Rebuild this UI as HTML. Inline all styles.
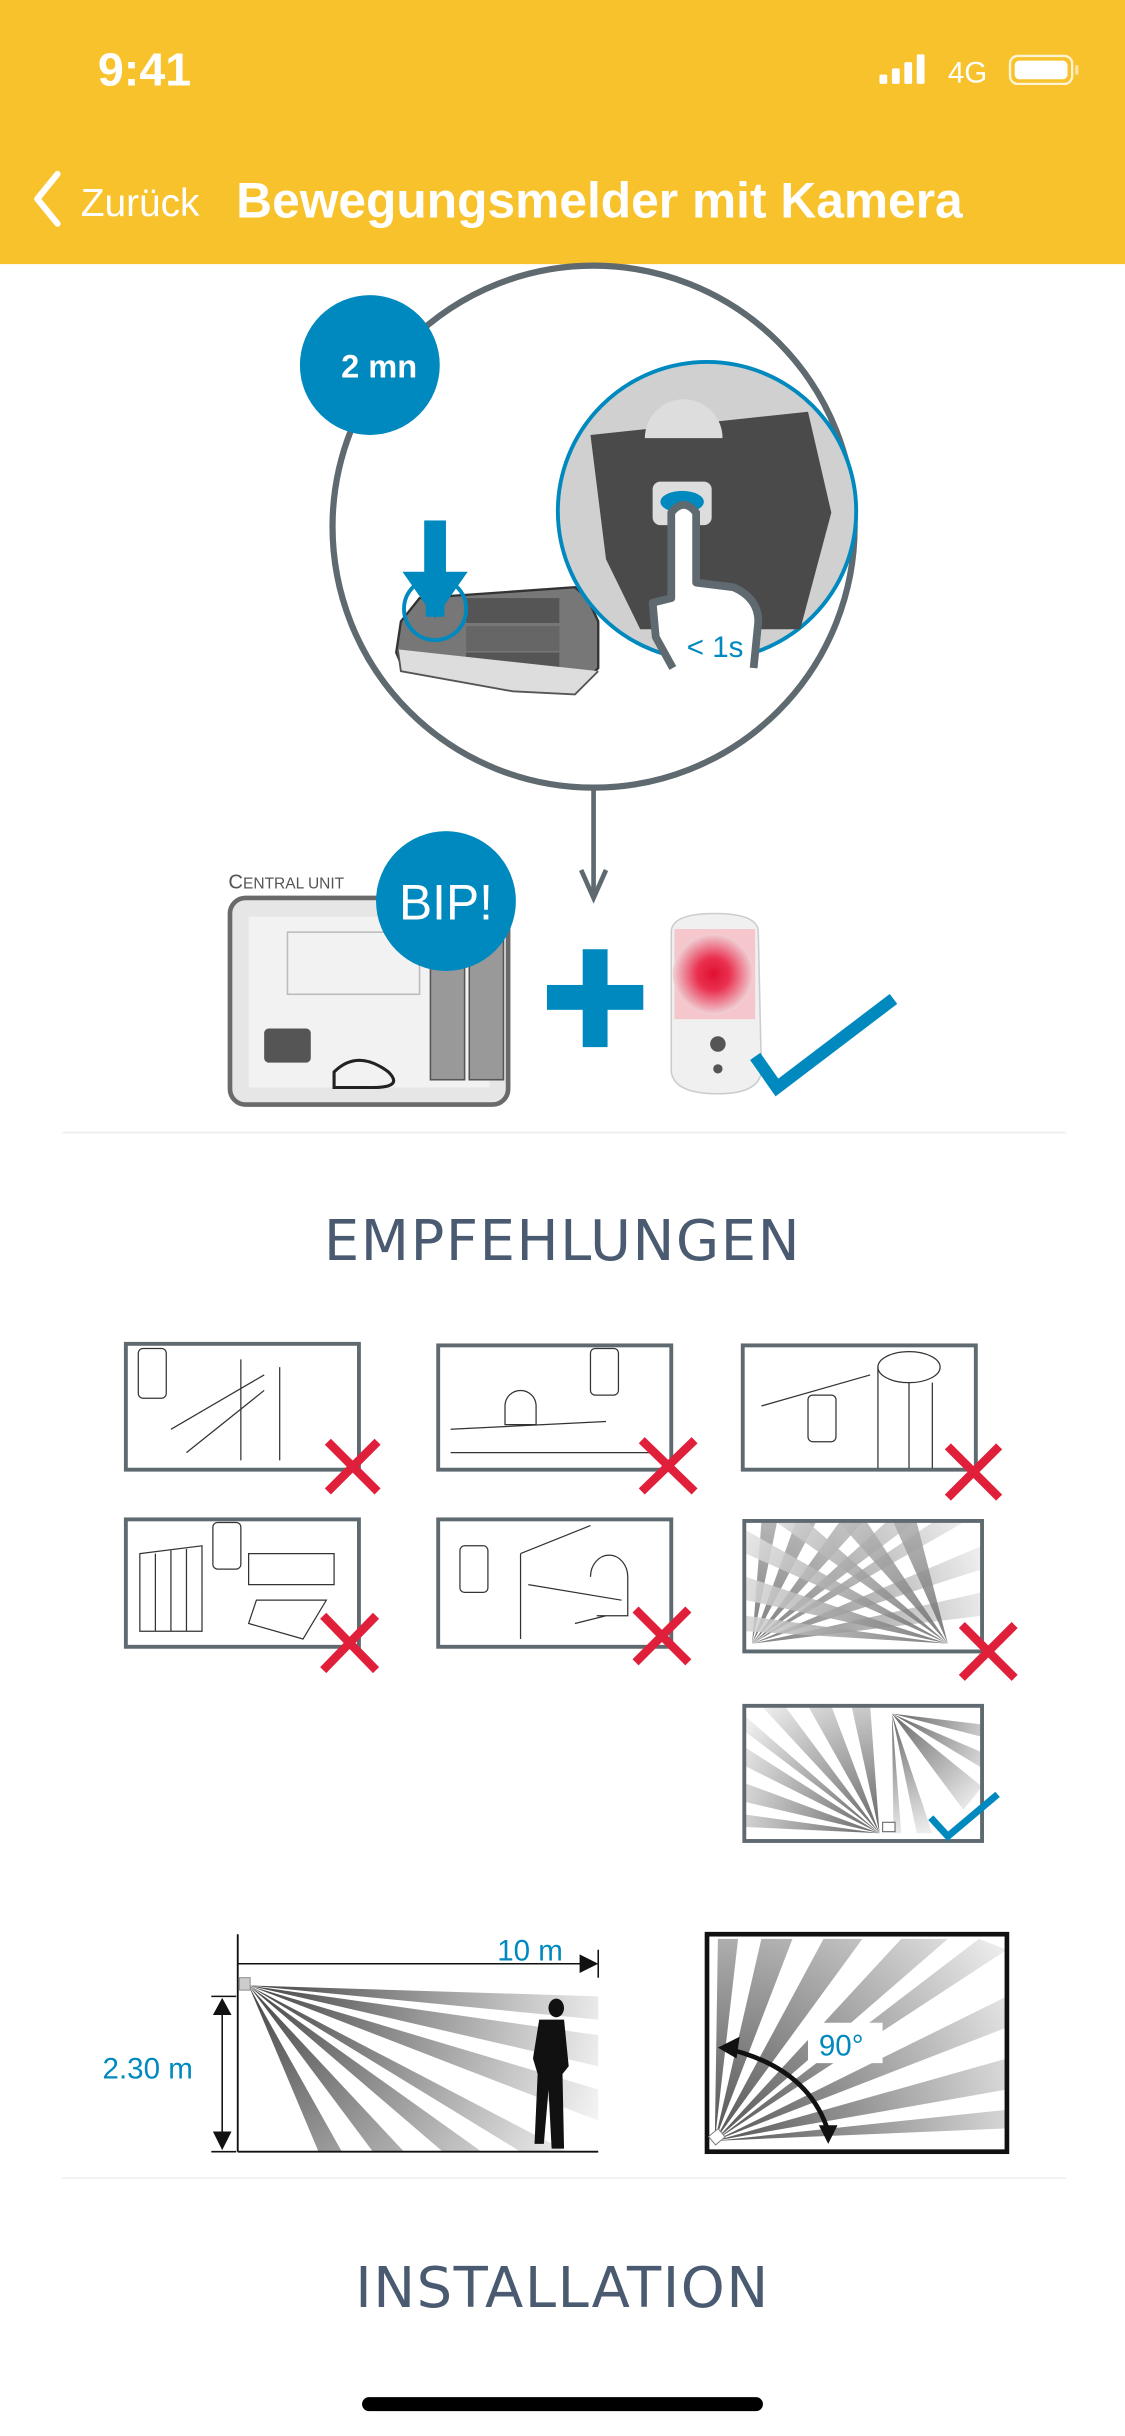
<!DOCTYPE html>
<html><head><meta charset="utf-8"><style>
html,body{margin:0;padding:0;background:#fff;}
svg{display:block;}
</style></head><body>
<svg width="1125" height="2436" viewBox="0 0 724 1568" preserveAspectRatio="none" xmlns="http://www.w3.org/2000/svg" font-family="Liberation Sans, sans-serif">
<defs>
<radialGradient id="g1" gradientUnits="userSpaceOnUse" cx="160" cy="1278" r="240"><stop offset="0" stop-color="#444"/><stop offset="1" stop-color="#f4f4f4"/></radialGradient>
<radialGradient id="g2" gradientUnits="userSpaceOnUse" cx="460" cy="1378" r="230"><stop offset="0" stop-color="#555"/><stop offset="1" stop-color="#f2f2f2"/></radialGradient>
<radialGradient id="g3" gradientUnits="userSpaceOnUse" cx="484" cy="1058" r="160"><stop offset="0" stop-color="#666"/><stop offset="1" stop-color="#eee"/></radialGradient>
<radialGradient id="g4" gradientUnits="userSpaceOnUse" cx="610" cy="1058" r="160"><stop offset="0" stop-color="#666"/><stop offset="1" stop-color="#eee"/></radialGradient>
<radialGradient id="g5" gradientUnits="userSpaceOnUse" cx="566" cy="1180" r="110"><stop offset="0" stop-color="#666"/><stop offset="1" stop-color="#eee"/></radialGradient>
<radialGradient id="g6" gradientUnits="userSpaceOnUse" cx="574" cy="1103" r="80"><stop offset="0" stop-color="#666"/><stop offset="1" stop-color="#eee"/></radialGradient>
<radialGradient id="red" cx="0.5" cy="0.5" r="0.5"><stop offset="0" stop-color="#e01030"/><stop offset="0.4" stop-color="#ea3050"/><stop offset="1" stop-color="#f0d0d4"/></radialGradient>
</defs>
<rect x="0" y="0" width="724" height="170" fill="#F8C22C"/>
<text x="63" y="55" font-size="30" font-weight="bold" fill="#fff">9:41</text>
<rect x="566" y="48" width="5" height="6" rx="1" fill="#fff"/><rect x="574" y="44" width="5" height="10" rx="1" fill="#fff"/><rect x="582" y="40" width="5" height="14" rx="1" fill="#fff"/><rect x="590" y="35" width="5" height="19" rx="1" fill="#fff"/>
<text x="610" y="53" font-size="19" fill="#fff">4G</text>
<rect x="650" y="36" width="40" height="18" rx="5" fill="none" stroke="#fff" stroke-width="1.5" opacity="0.8"/><rect x="653" y="39" width="34" height="12" rx="3" fill="#fff"/><rect x="692" y="42" width="2" height="6" fill="#fff" opacity="0.6"/>
<polyline points="37,112 24,128 37,144" fill="none" stroke="#fff" stroke-width="4" stroke-linecap="round" stroke-linejoin="round"/>
<text x="52" y="139" font-size="25" fill="#fff">Zurück</text>
<text x="152" y="140" font-size="32" font-weight="bold" fill="#fff">Bewegungsmelder mit Kamera</text>
<circle cx="382" cy="339" r="168" fill="none" stroke="#5f6a70" stroke-width="4"/>
<line x1="382" y1="508" x2="382" y2="575" stroke="#5f6a70" stroke-width="3"/>
<polyline points="374,560 382,578 390,560" fill="none" stroke="#5f6a70" stroke-width="3"/>
<circle cx="238" cy="235" r="45" fill="#0089BE"/>
<text x="244" y="243" font-size="21" font-weight="bold" fill="#fff" text-anchor="middle">2 mn</text>
<path d="M258,400 L270,385 L370,378 L378,385 L385,400 L385,430 L370,445 L320,440 L260,432 L255,420 Z" fill="#777" stroke="#333" stroke-width="1.5"/>
<rect x="300" y="385" width="60" height="16" fill="#555"/><rect x="300" y="403" width="60" height="16" fill="#666"/><rect x="300" y="420" width="60" height="14" fill="#555"/>
<path d="M256,418 L258,432 L330,445 L370,447 L385,432" fill="#ddd" stroke="#555" stroke-width="1.2"/>
<rect x="273" y="335" width="14" height="34" fill="#0089BE"/><polygon points="259,368 301,368 280,398" fill="#0089BE"/>
<circle cx="280" cy="392" r="20" fill="none" stroke="#0089BE" stroke-width="2.5"/>
<rect x="274" y="385" width="12" height="12" fill="#0089BE"/>
<circle cx="455" cy="329" r="96" fill="#d0d0d0" stroke="#0089BE" stroke-width="2.5"/>
<path d="M380,280 L520,265 L535,330 L515,405 L412,405 L390,360 Z" fill="#4a4a4a"/>
<path d="M415,282 A25,25 0 0 1 465,282 Z" fill="#ddd"/>
<rect x="420" y="310" width="38" height="28" rx="5" fill="#ddd"/>
<ellipse cx="439" cy="323" rx="14" ry="7" fill="#0089BE"/>
<path d="M433,430 L422,410 L420,388 L432,385 L432,330 Q440,320 448,330 L448,375 L472,378 Q488,385 488,400 L485,430" fill="#fff" stroke="#5f6a70" stroke-width="5" stroke-linejoin="round"/>
<text x="442" y="423" font-size="19" fill="#0089BE">&lt; 1s</text>
<text x="147" y="572" font-size="13" fill="#555">C<tspan font-size="10">ENTRAL UNIT</tspan></text>
<rect x="148" y="578" width="179" height="133" rx="10" fill="#e6e6e6" stroke="#6a6a6a" stroke-width="3"/>
<rect x="160" y="590" width="155" height="110" fill="#f2f2f2"/>
<rect x="277" y="615" width="22" height="80" fill="#999" stroke="#555"/><rect x="302" y="600" width="22" height="95" fill="#999" stroke="#555"/>
<rect x="170" y="662" width="30" height="22" rx="3" fill="#555"/>
<path d="M215,690 Q230,675 250,690 Q260,700 240,700 L215,700 Z" fill="none" stroke="#222" stroke-width="2"/>
<rect x="185" y="600" width="85" height="40" fill="none" stroke="#bbb"/>
<circle cx="287" cy="580" r="45" fill="#0089BE"/>
<text x="287" y="592" font-size="32" fill="#fff" text-anchor="middle">BIP!</text>
<rect x="352" y="634" width="62" height="16" fill="#0089BE"/><rect x="375" y="611" width="16" height="63" fill="#0089BE"/>
<path d="M432,600 Q432,588 460,588 Q488,588 488,600 L490,690 Q488,704 462,704 Q434,704 432,690 Z" fill="#f0f0f0" stroke="#ccc"/>
<rect x="434" y="598" width="52" height="58" fill="#f5c7cc"/>
<circle cx="459" cy="627" r="26" fill="url(#red)"/>
<circle cx="462" cy="672" r="5" fill="#555"/><circle cx="462" cy="688" r="3" fill="#555"/>
<polyline points="486,680 500,700 575,643" fill="none" stroke="#0089BE" stroke-width="8"/>
<line x1="40" y1="729" x2="686" y2="729" stroke="#eee" stroke-width="1"/>
<text x="362" y="811" font-size="36" fill="#4a5a70" text-anchor="middle" font-family="DejaVu Sans, sans-serif" letter-spacing="1">EMPFEHLUNGEN</text>
<g fill="none" stroke="#5f6a70" stroke-width="2.5">
<rect x="81" y="865" width="150" height="81"/>
<rect x="282" y="866" width="150" height="80"/>
<rect x="478" y="866" width="150" height="80"/>
<rect x="81" y="978" width="150" height="82"/>
<rect x="282" y="978" width="150" height="82"/>
</g>
<g stroke="#333" stroke-width="0.8" fill="none">
<rect x="89" y="868" width="18" height="32" rx="3"/><line x1="155" y1="875" x2="155" y2="940"/><line x1="180" y1="880" x2="180" y2="940"/><line x1="110" y1="920" x2="170" y2="885"/><line x1="120" y1="935" x2="170" y2="895"/>
<rect x="380" y="868" width="18" height="30" rx="3"/><path d="M290,920 L390,915 M290,935 L420,935 M325,905 a10,10 0 1 1 20,0 l0,12 l-20,0 z"/>
<rect x="520" y="898" width="18" height="30" rx="3"/><path d="M490,905 L560,885 M565,880 L565,945 M585,890 L585,945 M600,890 L600,945"/><ellipse cx="585" cy="880" rx="20" ry="10"/>
<rect x="137" y="980" width="18" height="30" rx="3"/><path d="M90,1000 L130,995 L130,1050 L90,1050 Z M100,1000 L100,1050 M110,998 L110,1050 M120,997 L120,1050 M160,1000 L215,1000 L215,1020 L160,1020 Z M165,1030 L210,1030 L195,1055 L160,1045 Z"/>
<rect x="296" y="995" width="18" height="30" rx="3"/><path d="M335,1000 L380,982 M335,1000 L335,1055 M340,1020 L400,1030 M380,1015 a12,14 0 1 1 24,0 l0,25 l-20,0 M370,1045 l20,-5"/>
</g>
<g fill="url(#g3)" opacity="0.85">
<polygon points="484,1058 490,980 500,980"/><polygon points="484,1058 512,980 525,980"/><polygon points="484,1058 540,980 555,980"/><polygon points="484,1058 570,980 588,980"/><polygon points="484,1058 600,980 620,980"/><polygon points="484,1058 632,995 632,1010"/><polygon points="484,1058 632,1025 632,1040"/>
</g>
<g fill="url(#g4)" opacity="0.85">
<polygon points="610,1058 480,985 480,1000"/><polygon points="610,1058 480,1015 480,1030"/><polygon points="610,1058 480,1040 480,1050"/><polygon points="610,1058 500,980 520,980"/><polygon points="610,1058 540,980 558,980"/><polygon points="610,1058 575,980 590,980"/>
</g>
<rect x="479" y="979" width="153" height="84" fill="none" stroke="#5f6a70" stroke-width="2.5"/>
<g fill="url(#g5)">
<polygon points="566,1180 480,1105 480,1115"/><polygon points="566,1180 480,1125 480,1137"/><polygon points="566,1180 480,1148 480,1160"/><polygon points="566,1180 480,1168 480,1176"/><polygon points="566,1180 490,1098 505,1098"/><polygon points="566,1180 520,1098 535,1098"/><polygon points="566,1180 548,1098 560,1098"/>
</g>
<g fill="url(#g6)">
<polygon points="574,1103 632,1110 632,1118"/><polygon points="574,1103 632,1128 632,1138"/><polygon points="574,1103 600,1180 590,1180"/><polygon points="574,1103 580,1180 575,1180"/><polygon points="574,1103 632,1150 620,1165"/>
</g>
<rect x="479" y="1098" width="153" height="87" fill="none" stroke="#5f6a70" stroke-width="2.5"/>
<rect x="568" y="1173" width="8" height="6" fill="#fff" stroke="#777" stroke-width="0.8"/>
<polyline points="599,1170 610,1182 642,1155" fill="none" stroke="#0089BE" stroke-width="4.5"/>
<g stroke="#E0203A" stroke-width="5.5">
<path d="M211,928 L243,960 M243,928 L211,960"/>
<path d="M413,927 L447,960 M447,927 L413,960"/>
<path d="M610,931 L643,964 M643,931 L610,964"/>
<path d="M208,1040 L242,1075 M242,1040 L208,1075"/>
<path d="M409,1036 L443,1070 M443,1036 L409,1070"/>
<path d="M619,1046 L653,1080 M653,1046 L619,1080"/>
</g>
<g fill="url(#g1)">
<polygon points="160,1278 205,1385 220,1385"/><polygon points="160,1278 240,1385 260,1385"/><polygon points="160,1278 285,1385 310,1385"/><polygon points="160,1278 335,1385 365,1385"/><polygon points="160,1278 385,1345 385,1365"/><polygon points="160,1278 385,1310 385,1330"/><polygon points="160,1278 385,1285 385,1300"/>
</g>
<line x1="153" y1="1245" x2="153" y2="1385" stroke="#111" stroke-width="1.2"/>
<line x1="153" y1="1385" x2="385" y2="1385" stroke="#111" stroke-width="1.2"/>
<line x1="153" y1="1264" x2="378" y2="1264" stroke="#111" stroke-width="1"/>
<polygon points="373,1258 385,1264 373,1270" fill="#111"/><line x1="385" y1="1255" x2="385" y2="1273" stroke="#111"/>
<rect x="154" y="1273" width="7" height="8" fill="#ccc" stroke="#888" stroke-width="0.6"/>
<text x="320" y="1262" font-size="19" fill="#0089BE">10 m</text>
<line x1="143" y1="1290" x2="143" y2="1378" stroke="#111" stroke-width="1"/>
<polygon points="137,1297 143,1286 149,1297" fill="#111"/><polygon points="137,1372 143,1384 149,1372" fill="#111"/>
<line x1="136" y1="1285" x2="152" y2="1285" stroke="#111"/><line x1="136" y1="1385" x2="152" y2="1385" stroke="#111"/>
<text x="66" y="1338" font-size="19" fill="#0089BE">2.30 m</text>
<path d="M353,1292 a5,6 0 1 1 0,1 M347,1300 L363,1300 L366,1330 L362,1335 L363,1383 L355,1383 L353,1345 L350,1380 L344,1380 L346,1335 L343,1325 Z" fill="#111"/>
<g fill="url(#g2)">
<polygon points="460,1378 462,1248 475,1248"/><polygon points="460,1378 490,1248 510,1248"/><polygon points="460,1378 530,1248 555,1248"/><polygon points="460,1378 580,1248 610,1248"/><polygon points="460,1378 630,1248 648,1255"/><polygon points="460,1378 648,1285 648,1305"/><polygon points="460,1378 648,1325 648,1345"/><polygon points="460,1378 648,1358 648,1370"/>
</g>
<rect x="455" y="1245" width="193" height="140" fill="none" stroke="#111" stroke-width="3"/>
<rect x="457" y="1372" width="8" height="7" fill="#fff" stroke="#777" stroke-width="0.6" transform="rotate(-40 461 1375)"/>
<path d="M465,1318 Q520,1330 533,1372" fill="none" stroke="#111" stroke-width="3"/>
<polygon points="462,1318 476,1311 474,1325" fill="#111"/><polygon points="527,1368 539,1368 533,1380" fill="#111"/>
<rect x="520" y="1302" width="48" height="26" fill="#fff"/>
<text x="527" y="1323" font-size="19" fill="#0089BE">90°</text>
<line x1="40" y1="1402" x2="686" y2="1402" stroke="#eee" stroke-width="1"/>
<text x="362" y="1485" font-size="36" fill="#4a5a70" text-anchor="middle" font-family="DejaVu Sans, sans-serif" letter-spacing="1">INSTALLATION</text>
<rect x="233" y="1543" width="258" height="9" rx="4.5" fill="#000"/>
</svg>
</body></html>
